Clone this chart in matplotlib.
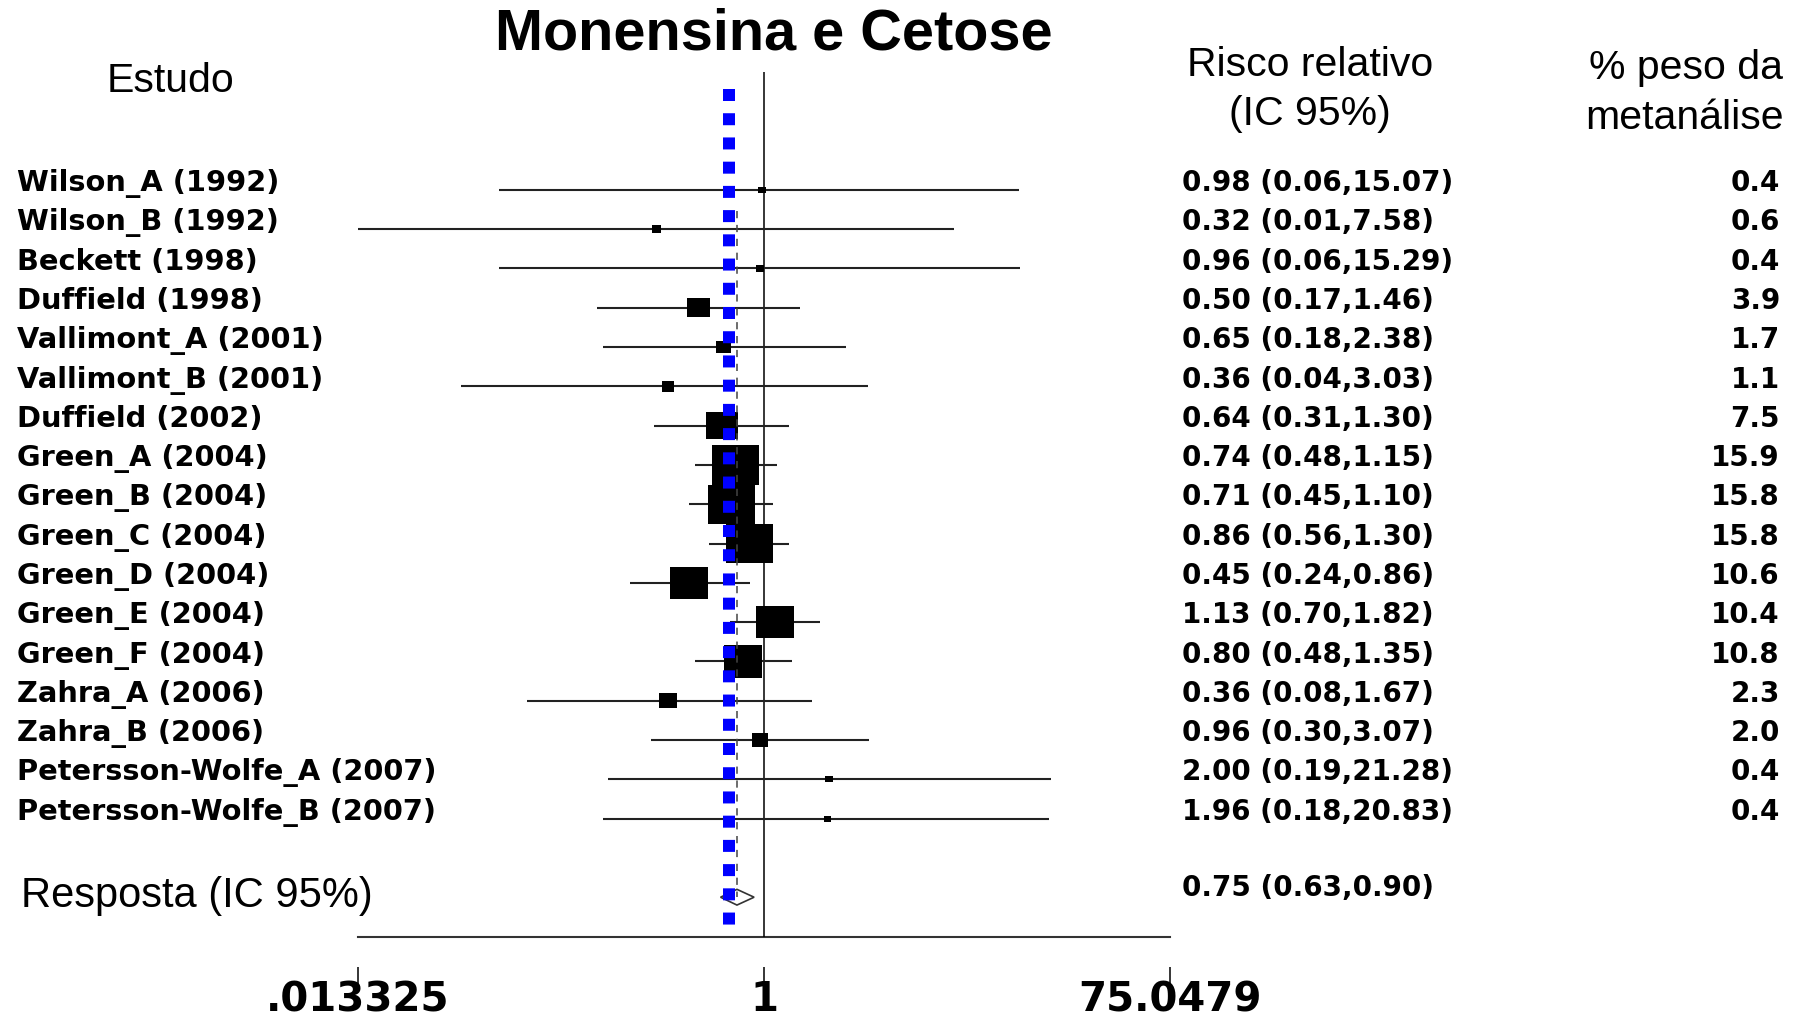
import matplotlib
matplotlib.use("Agg")
import matplotlib.pyplot as plt
from matplotlib.path import Path
from matplotlib.patches import Polygon
from matplotlib.ticker import NullLocator
from matplotlib.transforms import blended_transform_factory

# ---- data -------------------------------------------------------------
studies = [
    "Wilson_A (1992)", "Wilson_B (1992)", "Beckett (1998)", "Duffield (1998)",
    "Vallimont_A (2001)", "Vallimont_B (2001)", "Duffield (2002)",
    "Green_A (2004)", "Green_B (2004)", "Green_C (2004)", "Green_D (2004)",
    "Green_E (2004)", "Green_F (2004)", "Zahra_A (2006)", "Zahra_B (2006)",
    "Petersson-Wolfe_A (2007)", "Petersson-Wolfe_B (2007)",
]
rr = [0.98, 0.32, 0.96, 0.50, 0.65, 0.36, 0.64, 0.74, 0.71, 0.86, 0.45,
      1.13, 0.80, 0.36, 0.96, 2.00, 1.96]
ci_low = [0.06, 0.01, 0.06, 0.17, 0.18, 0.04, 0.31, 0.48, 0.45, 0.56, 0.24,
          0.70, 0.48, 0.08, 0.30, 0.19, 0.18]
ci_high = [15.07, 7.58, 15.29, 1.46, 2.38, 3.03, 1.30, 1.15, 1.10, 1.30, 0.86,
           1.82, 1.35, 1.67, 3.07, 21.28, 20.83]
weights = [0.4, 0.6, 0.4, 3.9, 1.7, 1.1, 7.5, 15.9, 15.8, 15.8, 10.6,
           10.4, 10.8, 2.3, 2.0, 0.4, 0.4]

pooled_rr = 0.75
pooled_low = 0.63
pooled_high = 0.90

blue_reference = 0.69

axis_ticks = [0.013325, 1, 75.0479]
axis_tick_labels = [".013325", "1", "75.0479"]

# ---- figure -----------------------------------------------------------
plt.rcParams["lines.scale_dashes"] = False
W, H = 1795, 1016
fig = plt.figure(figsize=(W / 100, H / 100), dpi=100)
fig.patch.set_facecolor("white")

ax = fig.add_axes([358 / W, 1 - 936.5 / H, 812 / W, 864.5 / H])
ax.set_xscale("log")
ax.set_xlim(axis_ticks[0], axis_ticks[-1])
ax.set_ylim(19, -3)
ax.patch.set_alpha(0)

for side in ("left", "right", "top"):
    ax.spines[side].set_visible(False)
ax.spines["bottom"].set_position(("outward", 22))
ax.spines["bottom"].set_visible(False)
ax.set_yticks([])
ax.set_xticks(axis_ticks)
ax.set_xticklabels(axis_tick_labels)
ax.xaxis.set_minor_locator(NullLocator())
ax.tick_params(axis="x", direction="out", length=14.5, width=1.1, color="black",
               pad=-5, labelsize=29)
for lab in ax.get_xticklabels():
    lab.set_fontfamily("DejaVu Sans")
    lab.set_fontweight("bold")

# horizontal axis line
ax.axhline(19, color="#333333", lw=1.5, clip_on=False, zorder=2)
# line of no effect
ax.axvline(1, color="black", lw=1.1, zorder=2)

rows = list(range(len(studies)))
summary_row = len(studies) + 1

# confidence intervals
ax.hlines(rows, ci_low, ci_high, color="#222222", lw=1.5, zorder=2)

# weighted boxes (area proportional to weight)
box = Path([(-0.6, -0.5), (0.6, -0.5), (0.6, 0.5), (-0.6, 0.5), (-0.6, -0.5)],
           [Path.MOVETO, Path.LINETO, Path.LINETO, Path.LINETO, Path.CLOSEPOLY])
ax.scatter(rr, rows, s=[72.0 * w for w in weights], marker=box,
           color="black", linewidths=0, zorder=3)

# pooled estimate line and diamond
ax.plot([pooled_rr, pooled_rr], [0.53, summary_row], color="#444444", lw=1.1,
        linestyle=(0, (5.2, 4.8)), dash_capstyle="butt", zorder=4)
ax.add_patch(Polygon([(pooled_low, summary_row), (pooled_rr, summary_row - 0.2),
                      (pooled_high, summary_row), (pooled_rr, summary_row + 0.2)],
                     closed=True, fill=False, edgecolor="#333333", lw=1.2, zorder=4))

# blue reference line
ax.plot([blue_reference, blue_reference], [-2.57, 18.76], color=(0, 0, 1),
        lw=8.64, linestyle=(0, (8.64, 8.8)), dash_capstyle="butt", zorder=6)

# ---- text columns -----------------------------------------------------
row_trans = blended_transform_factory(fig.transFigure, ax.transData)
bold = dict(family="DejaVu Sans", fontweight="bold", color="black")

for i, name in enumerate(studies):
    fig.text(17 / W, i + 0.03, name, transform=row_trans, ha="left",
             va="baseline", fontsize=20.8, **bold)
    fig.text(1182 / W, i + 0.03, f"{rr[i]:.2f} ({ci_low[i]:.2f},{ci_high[i]:.2f})",
             transform=row_trans, ha="left", va="baseline", fontsize=20, **bold)
    fig.text(1780 / W, i + 0.03, f"{weights[i]:.1f}", transform=row_trans,
             ha="right", va="baseline", fontsize=20, **bold)

fig.text(1182 / W, summary_row - 0.03,
         f"{pooled_rr:.2f} ({pooled_low:.2f},{pooled_high:.2f})",
         transform=row_trans, ha="left", va="baseline", fontsize=20, **bold)
fig.text(21 / W, summary_row + 0.25, "Resposta (IC 95%)", transform=row_trans,
         ha="left", va="baseline", fontsize=30, family="Liberation Sans")

# ---- headers ----------------------------------------------------------
def fy(px):
    return 1 - px / H

fig.text(774 / W, fy(49), "Monensina e Cetose", ha="center", va="baseline",
         fontsize=41.5, fontweight="bold", family="Liberation Sans")
fig.text(171 / W, fy(92), "Estudo", ha="center", va="baseline",
         fontsize=29.5, family="Liberation Sans")
fig.text(1310 / W, fy(76), "Risco relativo", ha="center", va="baseline",
         fontsize=29.5, family="Liberation Sans")
fig.text(1310 / W, fy(125), "(IC 95%)", ha="center", va="baseline",
         fontsize=29.5, family="Liberation Sans")
fig.text(1783 / W, fy(79), "% peso da", ha="right", va="baseline",
         fontsize=29.5, family="Liberation Sans")
fig.text(1784 / W, fy(129), "metanálise", ha="right", va="baseline",
         fontsize=29.5, family="Liberation Sans")

fig.savefig("out.png", dpi=100, facecolor="white")
